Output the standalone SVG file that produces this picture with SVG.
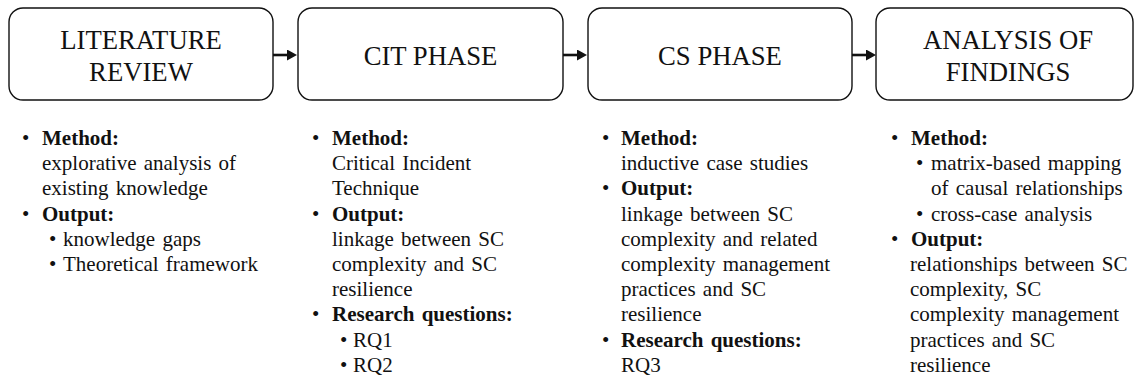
<svg xmlns="http://www.w3.org/2000/svg" width="1135" height="381" viewBox="0 0 1135 381">
<defs>
<style>
.box{fill:#fff;stroke:#111;stroke-width:1.4}
.title{font-family:"Liberation Serif","Times New Roman",serif;font-size:26.7px;fill:#111;text-anchor:middle}
.t{font-family:"Liberation Serif","Times New Roman",serif;font-size:21px;fill:#111;word-spacing:2px}
.b{font-weight:bold}
.conn{stroke:#111;stroke-width:2.6;fill:none;marker-end:url(#ah)}
</style>
<marker id="ah" markerUnits="userSpaceOnUse" markerWidth="10" markerHeight="11" refX="3" refY="5.5" orient="auto">
<path d="M0,0 L10,5.5 L0,11 z" fill="#111"/>
</marker>
</defs>
<rect width="1135" height="381" fill="#fff"/>
<g id="connectors">
<line class="conn" x1="273" y1="55" x2="290" y2="55"/>
<line class="conn" x1="563" y1="55" x2="580" y2="55"/>
<line class="conn" x1="852" y1="55" x2="869" y2="55"/>
</g>
<g id="node-literature">
<rect class="box" x="9" y="8" width="264" height="92" rx="14"/>
<text class="title" x="141" y="49">LITERATURE</text>
<text class="title" x="141" y="81">REVIEW</text>
</g>
<g id="node-cit">
<rect class="box" x="298" y="8" width="265" height="92" rx="14"/>
<text class="title" x="430.5" y="65">CIT PHASE</text>
</g>
<g id="node-cs">
<rect class="box" x="588" y="8" width="264" height="92" rx="14"/>
<text class="title" x="720" y="65">CS PHASE</text>
</g>
<g id="node-analysis">
<rect class="box" x="876" y="8" width="257" height="92" rx="14"/>
<text class="title" x="1008" y="49">ANALYSIS OF</text>
<text class="title" x="1008" y="81">FINDINGS</text>
</g>
<g id="text-literature" class="t">
<text x="22" y="145">•</text><text class="b" x="42" y="145">Method:</text>
<text x="42" y="170.2">explorative analysis of</text>
<text x="42" y="195.4">existing knowledge</text>
<text x="22" y="220.6">•</text><text class="b" x="42" y="220.6">Output:</text>
<text x="49" y="245.8">•</text><text x="63" y="245.8">knowledge gaps</text>
<text x="49" y="271">•</text><text x="63" y="271">Theoretical framework</text>
</g>
<g id="text-cit" class="t">
<text x="312" y="145">•</text><text class="b" x="332" y="145">Method:</text>
<text x="332" y="170.2">Critical Incident</text>
<text x="332" y="195.4">Technique</text>
<text x="312" y="220.6">•</text><text class="b" x="332" y="220.6">Output:</text>
<text x="332" y="245.8">linkage between SC</text>
<text x="332" y="271">complexity and SC</text>
<text x="332" y="296.2">resilience</text>
<text x="312" y="321.4">•</text><text class="b" x="332" y="321.4">Research questions:</text>
<text x="340" y="346.6">•</text><text x="353" y="346.6">RQ1</text>
<text x="340" y="371.8">•</text><text x="353" y="371.8">RQ2</text>
</g>
<g id="text-cs" class="t">
<text x="602" y="145">•</text><text class="b" x="621" y="145">Method:</text>
<text x="621" y="170.2">inductive case studies</text>
<text x="602" y="195.4">•</text><text class="b" x="621" y="195.4">Output:</text>
<text x="621" y="220.6">linkage between SC</text>
<text x="621" y="245.8">complexity and related</text>
<text x="621" y="271">complexity management</text>
<text x="621" y="296.2">practices and SC</text>
<text x="621" y="321.4">resilience</text>
<text x="602" y="346.6">•</text><text class="b" x="621" y="346.6">Research questions:</text>
<text x="621" y="371.8">RQ3</text>
</g>
<g id="text-analysis" class="t">
<text x="891" y="145">•</text><text class="b" x="911" y="145">Method:</text>
<text x="916" y="170.2">•</text><text x="931" y="170.2">matrix-based mapping</text>
<text x="931" y="195.4">of causal relationships</text>
<text x="916" y="220.6">•</text><text x="931" y="220.6">cross-case analysis</text>
<text x="891" y="245.8">•</text><text class="b" x="911" y="245.8">Output:</text>
<text x="910" y="271">relationships between SC</text>
<text x="910" y="296.2">complexity, SC</text>
<text x="910" y="321.4">complexity management</text>
<text x="910" y="346.6">practices and SC</text>
<text x="910" y="371.8">resilience</text>
</g>
</svg>
